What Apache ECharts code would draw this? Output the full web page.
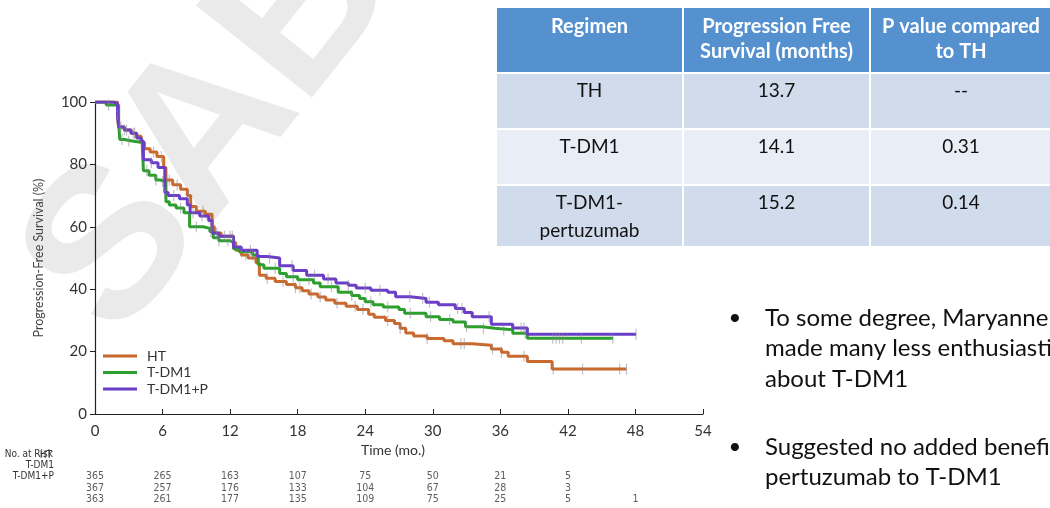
<!DOCTYPE html>
<html><head><meta charset="utf-8">
<script src="https://cdn.jsdelivr.net/npm/echarts@6/dist/echarts.min.js"></script>
<style>html,body{margin:0;padding:0;background:#fff}#c{width:1050px;height:508px}</style>
</head><body><div id="c"></div>
<script>
// ---------- data ----------
const seriesNames = ['HT', 'T-DM1', 'T-DM1+P'];
const seriesColors = ['#c9692d', '#2d9f2d', '#6a3ec6'];

const htTime = [0,2.0,2.1,2.6,3.2,3.7,4.1,4.4,4.9,5.5,6.1,6.3,6.9,7.6,8.2,8.5,9.0,9.8,10.4,10.6,11.2,12.3,12.5,13.0,13.6,14.3,14.6,15.2,16.0,17.0,17.8,18.4,19.0,19.8,20.5,21.3,22.3,23.3,24.3,24.8,25.8,26.6,27.1,27.6,28.3,29.5,31.0,31.8,33.5,35.2,36.1,36.7,38.4,40.6,47.2];
const htSurv = [100,95,92,91,90,89,87,85,84,82.5,79,75,73.5,72,70,66.5,65,64,60,58,57,55,52.5,51,50,48.5,44.5,43.5,42.5,41.5,40.5,39.5,38.5,37.5,36.5,35.5,34.5,33.5,32,31,30,29,27.5,26,25,24.2,23.5,22.5,22,20.8,19.8,18.5,16.8,14.4,14.4];

const tdm1Time = [0,1.0,2.1,2.2,2.6,3.3,4.2,4.3,4.8,5.4,5.8,6.3,6.6,7.2,7.9,8.4,9.6,10.2,10.5,11.0,12.0,12.3,12.8,14.0,14.5,15.0,16.4,17.0,18.0,19.4,20.0,21.6,22.8,23.5,24.0,24.7,25.6,27.0,27.5,29.4,30.6,31.8,32.9,34.4,35.5,37.1,38.4,46.0];
const tdm1Surv = [100,99,93,88,87.5,87,86,78,76.5,75,74.5,68,67,66,64.5,60,59.5,58.5,56.5,55.5,55,53,52,51,47.8,46.7,45,44,43,42,40.8,39,38,37,36,35,34.3,33.5,32.3,31.2,30.3,29.5,28,27.5,27,25.9,24.3,24.3];

const tdm1pTime = [0,1.6,2.0,2.1,2.6,3.2,3.7,4.1,4.3,5.0,5.6,6.2,6.5,7.5,8.2,8.45,9.3,10.1,10.4,11.0,12.3,13.0,14.4,15.3,16.4,17.6,18.8,20.3,21.4,22.5,23.2,24.5,26.0,26.7,28.0,29.4,30.5,32.0,32.8,33.5,35.2,37.1,38.4,48.05];
const tdm1pSurv = [100,99.5,96,92,91,90,88.5,87.5,81.5,80.5,79,71,70,69,67,64.5,63.5,62,58,57,53.5,52.5,50.5,50,47.5,46,44.5,43.3,42,41.3,40.4,39.7,39,37.6,37,35.8,35,33.8,32.5,31.2,28.8,27.6,25.6,25.6];

// censoring times (tick marks)
const htCensor = [2.2,2.6,3.4,5.2,5.9,6.6,7.3,8.3,9.6,10.4,11.5,12.2,13.4,15.3,16.7,17.8,18.2,19.2,20.0,21.5,23.1,23.8,26.0,27.1,29.5,32.5,32.8,35.3,36.1,38.1,40.7,43.3,46.6,47.2];
const tdm1Censor = [1.2,2.4,3.0,4.6,5.4,6.0,7.6,9.0,10.3,11.0,11.8,13.0,14.0,16.0,17.6,19.0,21.0,22.8,24.5,26.0,28.0,29.8,31.5,33.0,34.5,36.3,38.2,40.66,40.96,41.25,41.54,43.2,46.0];
const tdm1pCensor = [2.0,2.3,2.8,3.5,5.0,6.2,7.0,8.7,9.5,10.8,12.0,13.8,15.5,17.5,19.5,20.7,22.5,24.0,25.3,27.95,29.1,29.7,32.2,32.6,35.0,37.85,38.1,48.05];

// number at risk
const riskTimes = [0,6,12,18,24,30,36,42,48];
const riskHT = [365,265,163,107,75,50,21,5,null];
const riskTDM1 = [367,257,176,133,104,67,28,3,null];
const riskTDM1P = [363,261,177,135,109,75,25,5,1];

// table
const tableHeader = ['Regimen', 'Progression Free\nSurvival (months)', 'P value compared\nto TH'];
const tableRegimen = ['TH', 'T-DM1', 'T-DM1-\npertuzumab'];
const tablePFS = ['13.7', '14.1', '15.2'];
const tablePValue = ['--', '0.31', '0.14'];

// bullets
const bulletLines = [
  ['To some degree, Maryanne', 'made many less enthusiastic', 'about T-DM1'],
  ['Suggested no added benefit', 'pertuzumab to T-DM1']
];

// ---------- helpers ----------
function stepAt(times, surv, t) {
  let v = surv[0];
  for (let i = 0; i < times.length; i++) { if (times[i] <= t + 1e-9) v = surv[i]; else break; }
  return v;
}
const curves = [[htTime, htSurv, htCensor], [tdm1Time, tdm1Surv, tdm1Censor], [tdm1pTime, tdm1pSurv, tdm1pCensor]];
const riskRows = [riskHT, riskTDM1, riskTDM1P];

const FONT = 'Lato, "Open Sans", sans-serif';
const NARROW = '"Liberation Sans Narrow", "DejaVu Sans Condensed", sans-serif';

const series = [];
curves.forEach((c, k) => {
  series.push({
    name: seriesNames[k], type: 'line', step: 'end', showSymbol: false, symbol: 'none',
    data: c[0].map((t, i) => [t, c[1][i]]),
    lineStyle: { width: 3, color: seriesColors[k] }, itemStyle: { color: seriesColors[k] },
    z: 3, animation: false
  });
});
curves.forEach((c, k) => {
  series.push({
    type: 'scatter', symbol: 'rect', symbolSize: [1.2, 11],
    data: c[2].map(t => [t, stepAt(c[0], c[1], t)]),
    itemStyle: { color: 'rgba(135,135,145,0.65)' }, z: 4, animation: false, silent: true
  });
});
const riskData = [];
riskRows.forEach((row, r) => row.forEach((v, i) => { if (v !== null) riskData.push([riskTimes[i], seriesNames[r], v]); }));
series.push({
  type: 'scatter', xAxisIndex: 1, yAxisIndex: 1, symbolSize: 0, data: riskData, animation: false, silent: true,
  label: { show: true, position: 'inside', formatter: p => String(p.data[2]), fontSize: 10.5, color: '#333', fontFamily: NARROW }
});

// ---------- graphics ----------
const graphics = [];
// watermark
graphics.push({ type: 'text', x: 212, y: 128, rotation: 0.9, z: -10, silent: true,
  style: { text: 'SAB', fontSize: 215, fontWeight: 'bold', fontFamily: '"Liberation Sans", sans-serif', fill: '#eaeaea', align: 'center', verticalAlign: 'middle' } });

// at-risk labels
const lblStyle = { fontSize: 10, fontFamily: NARROW, fill: '#333', align: 'right', verticalAlign: 'middle' };
graphics.push({ type: 'text', x: 53, y: 454, style: Object.assign({ text: 'No. at Risk' }, lblStyle) });
graphics.push({ type: 'text', x: 52, y: 455, style: Object.assign({ text: seriesNames[0] }, lblStyle) });
graphics.push({ type: 'text', x: 54, y: 465, style: Object.assign({ text: seriesNames[1] }, lblStyle) });
graphics.push({ type: 'text', x: 54, y: 476, style: Object.assign({ text: seriesNames[2] }, lblStyle) });

// table
const colX = [497, 684, 871, 1053];
const rowY = [8, 74, 130, 186, 248];
const rowFill = ['#5590cf', '#d0dbec', '#e9eef6', '#d0dbec'];
for (let r = 0; r < 4; r++) {
  for (let c = 0; c < 3; c++) {
    graphics.push({ type: 'rect', silent: true,
      shape: { x: colX[c], y: rowY[r], width: colX[c + 1] - colX[c] - 2, height: rowY[r + 1] - rowY[r] - 2 },
      style: { fill: rowFill[r] } });
  }
}
const cellText = (txt, c, r, header) => ({
  type: 'text', silent: true, x: (colX[c] + colX[c + 1] - 2) / 2, y: rowY[r] + (header ? 6.5 : 3),
  style: { text: txt, fontSize: header ? 20 : 19, lineHeight: header ? 25 : 28, fontWeight: header ? 'bold' : 'normal',
    fontFamily: FONT, fill: header ? '#ffffff' : '#111', align: 'center', verticalAlign: 'top' }
});
tableHeader.forEach((t, c) => graphics.push(cellText(t, c, 0, true)));
for (let i = 0; i < 3; i++) {
  graphics.push(cellText(tableRegimen[i], 0, i + 1, false));
  graphics.push(cellText(tablePFS[i], 1, i + 1, false));
  graphics.push(cellText(tablePValue[i], 2, i + 1, false));
}

// bullets
const bulletTop = [318, 447];
bulletLines.forEach((lines, b) => {
  graphics.push({ type: 'text', x: 735, y: bulletTop[b], silent: true,
    style: { text: '•', fontSize: 22, fontFamily: FONT, fill: '#111', align: 'center', verticalAlign: 'middle' } });
  lines.forEach((ln, j) => graphics.push({ type: 'text', x: 765, y: bulletTop[b] + j * 30.5, silent: true,
    style: { text: ln, fontSize: 24, fontFamily: FONT, fill: '#111', align: 'left', verticalAlign: 'middle' } }));
});

// ---------- chart ----------
const chart = echarts.init(document.getElementById('c'), null, { renderer: 'canvas' });
chart.setOption({
  animation: false,
  backgroundColor: '#ffffff',
  textStyle: { fontFamily: FONT },
  grid: [
    { left: 95, right: 347, top: 102, bottom: 94 },
    { left: 95, right: 347, top: 471, height: 34.5 }
  ],
  legend: {
    data: seriesNames, orient: 'vertical', left: 103, top: 349, padding: 0,
    icon: 'rect', itemWidth: 34, itemHeight: 3, itemGap: 2.5,
    textStyle: { fontSize: 14, lineHeight: 13, color: '#333', fontFamily: FONT, padding: [0, 0, 0, 5] }
  },
  xAxis: [
    { type: 'value', gridIndex: 0, min: 0, max: 54, interval: 6,
      axisLine: { show: true, lineStyle: { color: '#222', width: 1.2 } },
      axisTick: { show: true, inside: true, length: 5, lineStyle: { color: '#222' } },
      axisLabel: { fontSize: 15, color: '#333', margin: 10, fontFamily: FONT },
      splitLine: { show: false },
      name: 'Time (mo.)', nameLocation: 'middle', nameGap: 25,
      nameTextStyle: { fontSize: 14, color: '#333', fontFamily: FONT, padding: [0, 12, 0, 0] } },
    { type: 'value', gridIndex: 1, min: 0, max: 54, show: false }
  ],
  yAxis: [
    { type: 'value', gridIndex: 0, min: 0, max: 100, interval: 20,
      axisLine: { show: true, lineStyle: { color: '#222', width: 1.2 } },
      axisTick: { show: true, inside: false, length: 5, lineStyle: { color: '#222' } },
      axisLabel: { fontSize: 15, color: '#333', margin: 8, fontFamily: FONT },
      splitLine: { show: false },
      name: 'Progression-Free Survival (%)', nameLocation: 'middle', nameGap: 50, nameRotate: 90,
      nameTextStyle: { fontSize: 12.5, color: '#444', fontFamily: FONT } },
    { type: 'category', gridIndex: 1, data: seriesNames, inverse: true, show: false }
  ],
  series: series,
  graphic: graphics
});
</script>
</body></html>
